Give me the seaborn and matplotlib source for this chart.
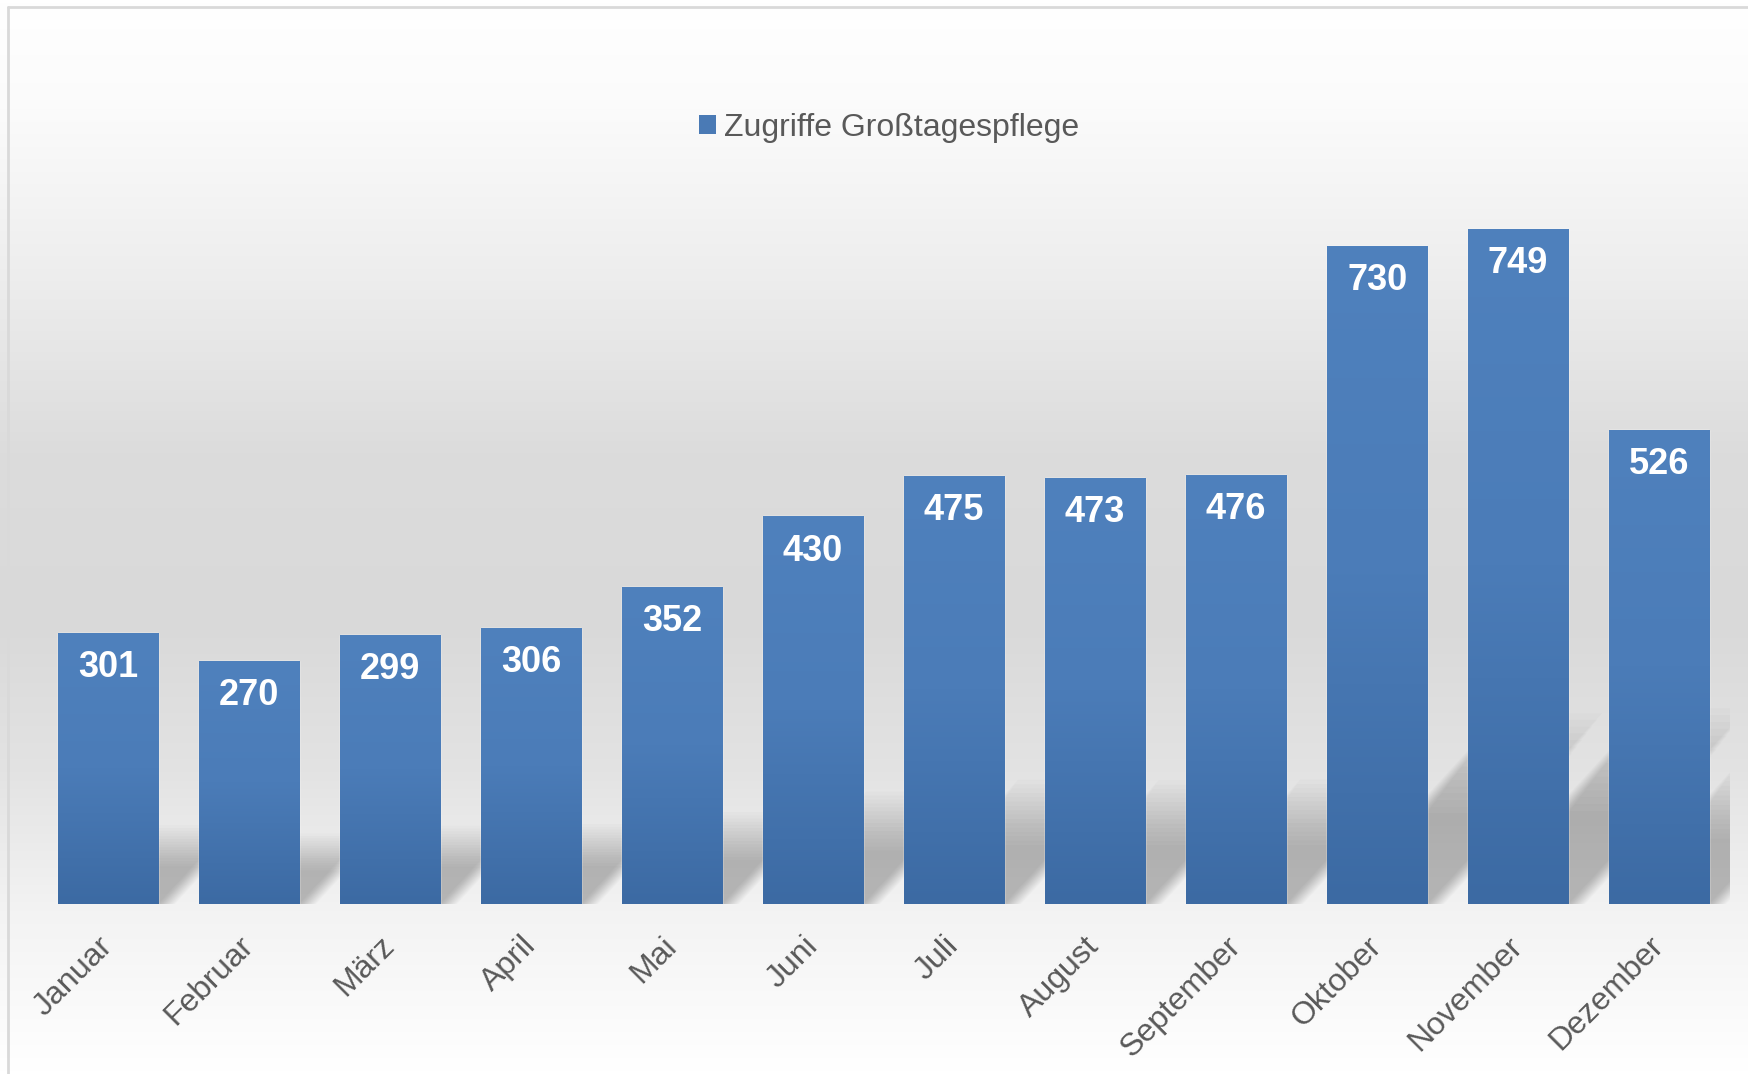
import numpy as np
import pandas as pd
import seaborn as sns
import matplotlib.pyplot as plt
import matplotlib.transforms as mtransforms
from matplotlib.colors import LinearSegmentedColormap
from matplotlib.patches import Patch, Polygon

months = ["Januar", "Februar", "März", "April", "Mai", "Juni", "Juli",
          "August", "September", "Oktober", "November", "Dezember"]
zugriffe = [301, 270, 299, 306, 352, 430, 475, 473, 476, 730, 749, 526]
series_name = "Zugriffe Großtagespflege"

sns.set_theme(style="white")
plt.rcParams['font.family'] = ['Liberation Sans', 'DejaVu Sans']

fig = plt.figure(figsize=(17.48, 10.74), dpi=100)

# background: light vertical gradient like the office chart
bg = fig.add_axes([0, 0, 1, 1], zorder=-10)
stops = [(0.0, '#ffffff'), (0.10, '#fbfbfb'), (0.25, '#eeeeee'), (0.42, '#dcdcdc'),
         (0.58, '#d9d9d9'), (0.72, '#e3e3e3'), (0.85, '#f3f3f3'), (1.0, '#ffffff')]
bg_cmap = LinearSegmentedColormap.from_list('bg', stops)
bg.imshow(np.linspace(0, 1, 512).reshape(-1, 1), cmap=bg_cmap, aspect='auto',
          extent=[0, 1, 0, 1], origin='upper')
bg.plot([8 / 1748, 8 / 1748], [0, 1 - 7 / 1074], color='#d9d9d9', lw=2)
bg.plot([8 / 1748, 1], [1 - 7 / 1074, 1 - 7 / 1074], color='#d9d9d9', lw=2)
bg.set_xlim(0, 1)
bg.set_ylim(0, 1)
bg.axis('off')

ax = fig.add_axes([0.0215, 0.1583, 0.968, 0.6713])
ax.patch.set_alpha(0)

df = pd.DataFrame({'Monat': months, 'Zugriffe': zugriffe})
sns.barplot(data=df, x='Monat', y='Zugriffe', color='#4f81bd', saturation=1,
            width=0.71, ax=ax, zorder=3)

# soft skewed shadows behind the bars (many faint layers = blur)
n_layers = 16
for i, v in enumerate(zugriffe):
    x0, x1 = i - 0.355, i + 0.355
    for k in range(n_layers):
        f = 1 - 0.035 * k
        h = 0.29 * v * f
        dx = 0.0017 * v * f
        s = 0.008 * k
        poly = Polygon([(x0 + s, 0), (x1 + s, 0), (x1 + dx + s, h), (x0 + dx + s, h)],
                       closed=True, facecolor='black', alpha=0.016, edgecolor='none',
                       zorder=2)
        ax.add_patch(poly)

# gradient fill of the bars
bar_cmap = LinearSegmentedColormap.from_list('bar', ['#4f81bd', '#4b7cb8', '#3c6aa3'])
grad = np.linspace(0, 1, 256).reshape(-1, 1)
for patch in list(ax.patches):
    if isinstance(patch, Polygon):
        continue
    x, w, h = patch.get_x(), patch.get_width(), patch.get_height()
    im = ax.imshow(grad, cmap=bar_cmap, aspect='auto', extent=[x, x + w, 0, h],
                   origin='upper', zorder=3.5)
    im.set_clip_path(patch)

for i, v in enumerate(zugriffe):
    ax.annotate(str(v), xy=(i, v), xytext=(0, -25), textcoords='offset points',
                ha='center', va='center', color='white', fontsize=26,
                fontweight='bold', zorder=5)

ax.set_xlim(-0.5, 11.5)
ax.set_ylim(0, 800)
ax.set_xticks(range(len(months)))
ax.set_xticklabels(months, rotation=45, ha='right', va='center',
                   rotation_mode='anchor', fontsize=23, color='#595959')
shift = mtransforms.ScaledTranslation(7 / 72, 0, fig.dpi_scale_trans)
for lbl in ax.get_xticklabels():
    lbl.set_transform(lbl.get_transform() + shift)
ax.tick_params(axis='x', length=0, pad=27)
ax.set_yticks([])
ax.set_xlabel('')
ax.set_ylabel('')
for sp in ax.spines.values():
    sp.set_visible(False)

fig.legend(handles=[Patch(facecolor='#4a7ab5', edgecolor='none', label=series_name)],
           loc='center', bbox_to_anchor=(0.5086, 0.881), frameon=False, fontsize=23,
           handlelength=0.55, handleheight=0.55, handletextpad=0.25,
           labelcolor='#595959')

fig.savefig('out.png', dpi=100)
